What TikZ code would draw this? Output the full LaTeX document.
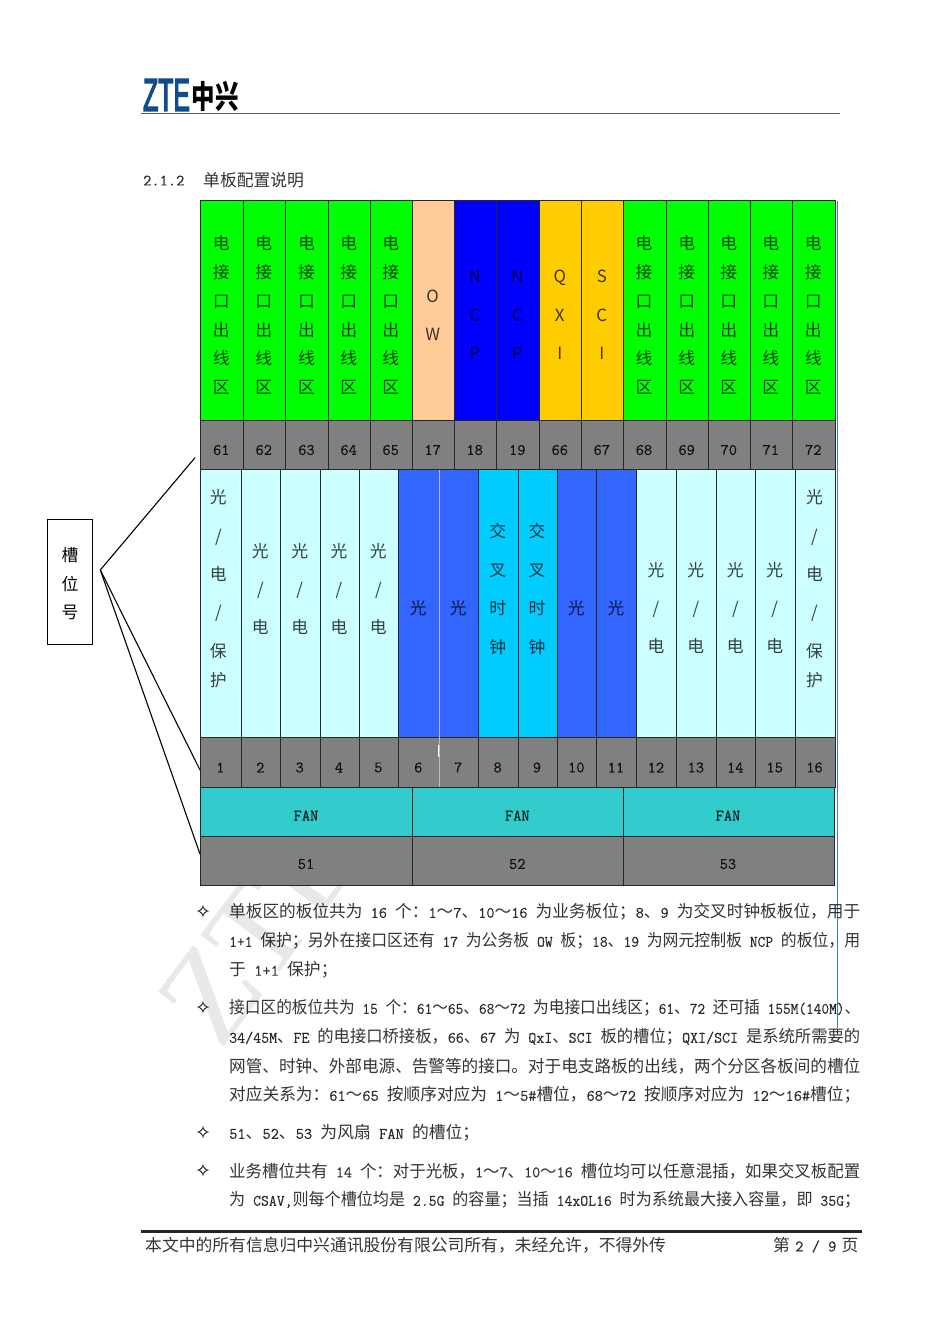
\documentclass[tikz,border=0pt]{standalone}
\usepackage{fontspec}
\usepackage{graphicx}
\setmainfont{Noto Sans CJK SC}
\setmonofont[Scale=.952,FakeBold=.15]{Latin Modern Mono}
\newfontfamily\symfont{DejaVu Sans}
\newfontfamily\logofont[FakeBold=4]{Liberation Sans}
\newfontfamily\markfont{Liberation Serif}
\usetikzlibrary{positioning}
\definecolor{slotgray}{HTML}{808080}
\definecolor{elecgreen}{HTML}{00FF00}
\definecolor{owpeach}{HTML}{FFCC99}
\definecolor{ncpblue}{HTML}{0000FF}
\definecolor{qxigold}{HTML}{FFCC00}
\definecolor{optpale}{HTML}{CCFFFF}
\definecolor{optblue}{HTML}{3366FF}
\definecolor{xcsky}{HTML}{00CCFF}
\definecolor{fanteal}{HTML}{33CCCC}
\definecolor{ztenavy}{HTML}{0F4C8A}
\definecolor{steelline}{HTML}{3F7FA8}
\newcommand{\la}[1]{{\ttfamily #1}}
\newcommand{\fullline}[1]{\resizebox{631pt}{\height}{#1}}
\tikzset{
  cell/.style={draw=black!85, line width=.9pt},
  celltxt/.style={inner sep=0pt, align=center, xshift=-.7pt, text opacity=.75},
  wide/.style={celltxt, font=\fontsize{16.8}{38.4}\selectfont},
  tight/.style={celltxt, font=\fontsize{16.8}{28.8}\selectfont},
  numtxt/.style={celltxt, text opacity=.85, font=\fontsize{16.8}{17}\selectfont\ttfamily},
  bodyline/.style={anchor=west, inner sep=0pt, text opacity=.8, font=\fontsize{16.8}{17}\selectfont},
  bulletmark/.style={inner sep=0pt, font=\fontsize{19}{19}\selectfont\symfont}
}
\begin{document}
\begin{tikzpicture}[x=1pt, y=-1pt]
  \useasboundingbox (0,0) rectangle (950,1344);
  % watermark
  \node[anchor=base west, rotate=53, inner sep=0pt, text=black!9, font=\fontsize{130}{130}\selectfont\markfont] (mark) at (220,1052) {ZTE};
  % header
  \node[anchor=west, inner sep=0pt, text=ztenavy, xscale=.54, font=\fontsize{46}{46}\selectfont\logofont] (ztelogo) at (143,95) {ZTE};
  \node[anchor=west, inner sep=0pt, yscale=1.35, font=\fontsize{23.5}{24}\selectfont\bfseries] (cnlogo) at (191.5,96) {中兴};
  \draw[black!65, line width=1.6pt] (141,113.4) -- (840,113.4);
  \node[bodyline] (secnum) at (143,180.5) {\la{2.1.2}};
  \node[bodyline] (sectitle) at (203,180.5) {单板配置说明};
  % upper slots
  \foreach \xl/\xr/\num/\bg/\lbl/\kind in {
    200.7/243.3/61/elecgreen/{电\\接\\口\\出\\线\\区}/tight,
    243.3/285.7/62/elecgreen/{电\\接\\口\\出\\线\\区}/tight,
    285.7/328.7/63/elecgreen/{电\\接\\口\\出\\线\\区}/tight,
    328.7/370/64/elecgreen/{电\\接\\口\\出\\线\\区}/tight,
    370/412.7/65/elecgreen/{电\\接\\口\\出\\线\\区}/tight,
    412.7/454/17/owpeach/{O\\W}/wide,
    454/496.7/18/ncpblue/{N\\C\\P}/wide,
    496.7/539.3/19/ncpblue/{N\\C\\P}/wide,
    539.3/581.7/66/qxigold/{Q\\X\\I}/wide,
    581.7/623.3/67/qxigold/{S\\C\\I}/wide,
    623.3/666/68/elecgreen/{电\\接\\口\\出\\线\\区}/tight,
    666/708.7/69/elecgreen/{电\\接\\口\\出\\线\\区}/tight,
    708.7/750.3/70/elecgreen/{电\\接\\口\\出\\线\\区}/tight,
    750.3/792.7/71/elecgreen/{电\\接\\口\\出\\线\\区}/tight,
    792.7/835.3/72/elecgreen/{电\\接\\口\\出\\线\\区}/tight} {
    \draw[cell, fill=\bg] (\xl,200.7) rectangle (\xr,420.5);
    \draw[cell, fill=slotgray] (\xl,420.5) rectangle (\xr,469.5);
    \node[\kind] (lbl\num) at ({(\xl+\xr)/2},315) {\lbl};
    \node[numtxt] (num\num) at ({(\xl+\xr)/2},450) {\num};
  }
  % lower slots
  \foreach \xl/\xr/\num/\bg/\lbl/\ymid/\dx in {
    200.7/241.3/1/optpale/{光\\/\\电\\/\\保\\[-9.6pt]护}/588.5/-2,
    241.3/280.7/2/optpale/{光\\/\\电}/589/0,
    280.7/320/3/optpale/{光\\/\\电}/589/0,
    320/359.3/4/optpale/{光\\/\\电}/589/0,
    359.3/398.7/5/optpale/{光\\/\\电}/589/0,
    398.7/439.3/6/optblue/{光}/608/0,
    439.3/478.7/7/optblue/{光}/608/0,
    478.7/518/8/xcsky/{交\\叉\\时\\钟}/589/0,
    518/557.3/9/xcsky/{交\\叉\\时\\钟}/589/0,
    557.3/596.7/10/optblue/{光}/608/0,
    596.7/636.5/11/optblue/{光}/608/0,
    636.5/676.7/12/optpale/{光\\/\\电}/608/0,
    676.7/716.3/13/optpale/{光\\/\\电}/608/0,
    716.3/755.7/14/optpale/{光\\/\\电}/608/0,
    755.7/795/15/optpale/{光\\/\\电}/608/0,
    795/835.3/16/optpale/{光\\/\\电\\/\\保\\[-9.6pt]护}/588.5/0} {
    \draw[cell, fill=\bg] (\xl,469.5) rectangle (\xr,737.5);
    \draw[cell, fill=slotgray] (\xl,737.5) rectangle (\xr,787.3);
    \node[wide] (lbl\num) at ({(\xl+\xr)/2+\dx},\ymid) {\lbl};
    \node[numtxt] (num\num) at ({(\xl+\xr)/2},767.5) {\num};
  }
  \draw[black!25, line width=.9pt] (439.3,469.5) -- (439.3,787.3);
  \draw[white, line width=.9pt] (438,745) -- (438,757);
  % fans
  \foreach \xl/\xr/\num in {200.7/412.7/51, 412.7/623.3/52, 623.3/834/53} {
    \draw[cell, fill=fanteal] (\xl,787.3) rectangle (\xr,836);
    \draw[cell, fill=slotgray] (\xl,836) rectangle (\xr,885);
    \node[numtxt] (fan\num) at ({(\xl+\xr)/2},815.5) {FAN};
    \node[numtxt] (num\num) at ({(\xl+\xr)/2},864) {\num};
  }
  \draw[steelline, line width=.9pt] (837.4,201) -- (837.4,1028);
  % slot number callout
  \node[draw=black, line width=.9pt, minimum width=45pt, minimum height=125pt, inner sep=0pt, align=center, font=\fontsize{16.8}{28.8}\selectfont] (slotname) at (70,581.8) {\rule{0pt}{18pt}槽\\位\\号};
  \coordinate (hub) at (100.3,570);
  \coordinate (upperend) at (195,457.7);
  \coordinate (midend) at (200,770);
  \coordinate (lowerend) at (200,854);
  \draw[line width=1.1pt] (upperend) -- (hub) -- (midend);
  \draw[line width=1.1pt] (hub) -- (lowerend);
  % notes
  \foreach \ypos in {912,1008,1133,1171} \node[bulletmark] (bul\ypos) at (203,\ypos) {✧};
  \node[bodyline] (l1) at (229,912) {\fullline{单板区的板位共为\la{ 16 }个：\la{1}～\la{7}、\la{10}～\la{16 }为业务板位；\la{8}、\la{9 }为交叉时钟板板位，用于}};
  \node[bodyline] (l2) at (229,941) {\fullline{\la{1+1 }保护；另外在接口区还有\la{ 17 }为公务板\la{ OW }板；\la{18}、\la{19 }为网元控制板\la{ NCP }的板位，用}};
  \node[bodyline] (l3) at (229,970) {于\la{ 1+1 }保护；};
  \node[bodyline] (l4) at (229,1008) {\fullline{接口区的板位共为\la{ 15 }个：\la{61}～\la{65}、\la{68}～\la{72 }为电接口出线区；\la{61}、\la{72 }还可插\la{ 155M(140M)}、}};
  \node[bodyline] (l5) at (229,1037) {\fullline{\la{34/45M}、\la{FE }的电接口桥接板，\la{66}、\la{67 }为\la{ QxI}、\la{SCI }板的槽位；\la{QXI/SCI }是系统所需要的}};
  \node[bodyline] (l6) at (229,1066) {\fullline{网管、时钟、外部电源、告警等的接口。对于电支路板的出线，两个分区各板间的槽位}};
  \node[bodyline] (l7) at (229,1095) {\fullline{对应关系为：\la{61}～\la{65 }按顺序对应为\la{ 1}～\la{5\#}槽位，\la{68}～\la{72 }按顺序对应为\la{ 12}～\la{16\#}槽位；}};
  \node[bodyline] (l8) at (229,1133) {\la{51}、\la{52}、\la{53 }为风扇\la{ FAN }的槽位；};
  \node[bodyline] (l9) at (229,1171) {\fullline{业务槽位共有\la{ 14 }个：对于光板，\la{1}～\la{7}、\la{10}～\la{16 }槽位均可以任意混插，如果交叉板配置}};
  \node[bodyline] (l10) at (229,1200) {\fullline{为\la{ CSAV,}则每个槽位均是\la{ 2.5G }的容量；当插\la{ 14xOL16 }时为系统最大接入容量，即\la{ 35G}；}};
  % footer
  \draw[black!85, line width=2.2pt] (141,1231.5) -- (862,1231.5);
  \node[bodyline] (foot) at (145,1245) {本文中的所有信息归中兴通讯股份有限公司所有，未经允许，不得外传};
  \node[bodyline] (page) at (773,1245) {第\kern-3pt\la{ 2 / 9 }\kern-3pt 页};
\end{tikzpicture}
\end{document}
